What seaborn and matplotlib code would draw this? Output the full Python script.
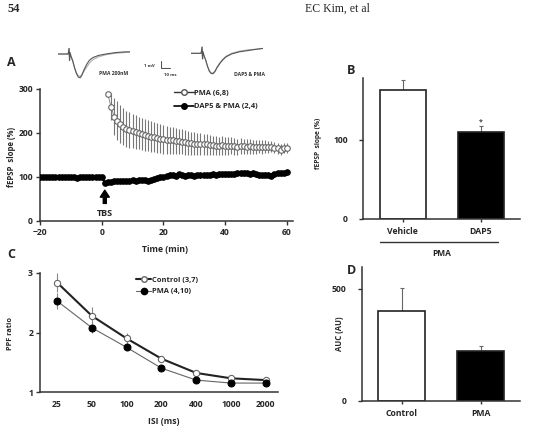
import numpy as np
import pandas as pd
import matplotlib
matplotlib.use("Agg")
import matplotlib.pyplot as plt
import matplotlib.transforms as mtransforms
from matplotlib.lines import Line2D
import seaborn as sns

# ---------------- data ----------------
time_dap5 = list(range(-20, 61))
dap5_pma = [100, 101, 100, 99, 100, 101, 100, 99, 100, 100, 101, 99, 98, 99, 100, 101, 100, 101, 100, 100, 101,
            87, 88, 89, 90, 90, 91, 91, 92, 92, 93,
            92, 93, 94, 93, 92, 94, 96, 97, 99, 100,
            102, 105, 104, 103, 106, 104, 103, 105, 104, 103,
            104, 104, 105, 104, 105, 106, 105, 106, 106, 107,
            106, 107, 107, 108, 108, 109, 108, 107, 108, 106,
            105, 104, 105, 104, 103, 106, 108, 109, 109, 111]
dap5_err = [3, 4, 3, 3, 4, 3, 3, 4, 3, 3, 4, 3, 3, 4, 3, 3, 4, 3, 3, 4, 3,
            5, 5, 4, 5, 4, 5, 4, 4, 5, 4,
            4, 5, 4, 4, 5, 4, 5, 4, 5, 5,
            5, 6, 5, 5, 6, 5, 5, 6, 5, 5,
            5, 6, 5, 5, 6, 5, 5, 6, 5, 6,
            6, 5, 6, 6, 5, 6, 6, 5, 6, 5,
            6, 5, 6, 5, 6, 5, 6, 6, 5, 6]
time_pma = list(range(2, 61))
pma = [288, 260, 237, 228, 221, 214, 210, 207, 204,
       202, 200, 198, 196, 194, 192, 190, 188, 187, 186,
       185, 183, 183, 182, 181, 180, 179, 178, 177, 176,
       175, 175, 174, 174, 173, 172, 171, 171, 172, 171,
       170, 171, 170, 169, 170, 170, 169, 170, 169, 168,
       169, 168, 169, 168, 169, 167, 165, 162, 166, 166]
pma_err = [4, 30, 42, 44, 43, 42, 41, 40, 39,
           38, 37, 36, 36, 35, 35, 34, 34, 33, 33,
           32, 31, 30, 30, 29, 28, 28, 27, 26, 26,
           25, 25, 24, 24, 23, 22, 22, 21, 21, 20,
           20, 19, 19, 18, 18, 17, 17, 17, 16, 16,
           15, 15, 14, 14, 13, 13, 12, 12, 11, 11]

isi_labels = ["25", "50", "100", "200", "400", "1000", "2000"]
ppf_control = [2.84, 2.28, 1.90, 1.56, 1.32, 1.23, 1.20]
ppf_control_err = [0.16, 0.15, 0.09, 0.05, 0.04, 0.03, 0.03]
ppf_pma = [2.53, 2.08, 1.75, 1.40, 1.20, 1.15, 1.15]
ppf_pma_err = [0.14, 0.09, 0.05, 0.04, 0.03, 0.03, 0.03]

b_groups = ["Vehicle", "DAP5"]
b_values = [163, 110]
b_err = [12, 7]

d_groups = ["Control", "PMA"]
d_values = [401, 224]
d_err = [102, 21]

trace_t = [0, 11, 12, 12.5, 13, 14, 16, 18, 20, 22, 24, 26, 28, 31, 34, 38, 44, 52, 62, 72, 78]
trace1_dark = [0, 0, 0.8, -0.9, 0.2, -0.3, -1.0, -2.0, -2.8, -3.3, -3.4, -3.0, -2.3, -1.5, -0.9, -0.5, -0.2, 0.0, 0.2, 0.3, 0.3]
trace1_gray = [0, 0, 0.8, -0.9, 0.2, -0.3, -1.0, -2.0, -2.7, -3.1, -3.2, -2.9, -2.5, -1.9, -1.3, -0.8, -0.4, -0.1, 0.1, 0.2, 0.3]
trace2_dark = [0, 0, 0.9, -0.8, 0.2, -0.3, -1.0, -1.9, -2.6, -2.9, -2.9, -2.6, -2.1, -1.5, -1.0, -0.5, -0.1, 0.2, 0.4, 0.6, 0.7]
trace2_gray = [0, 0, 0.9, -0.8, 0.2, -0.3, -1.0, -1.9, -2.5, -2.8, -2.8, -2.5, -2.0, -1.4, -0.9, -0.4, 0.0, 0.3, 0.5, 0.6, 0.7]
scale_ms = 10
scale_mv = 1

# ---------------- style ----------------
sns.set_theme(style="white")
plt.rcParams["font.family"] = ["Open Sans", "DejaVu Sans"]
plt.rcParams["font.weight"] = "bold"
plt.rcParams["axes.labelweight"] = "bold"

W, H = 534, 430
fig = plt.figure(figsize=(W / 100, H / 100), dpi=100)
fig.patch.set_facecolor("white")


def rect(x0, y0, x1, y1):
    return [x0 / W, 1 - y1 / H, (x1 - x0) / W, (y1 - y0) / H]


def fx(px):
    return px / W


def fy(py):
    return 1 - py / H


SPINE = "#333333"
TICKFS = 6.2
LABFS = 5.6


def style_axes(ax):
    sns.despine(ax=ax)
    for s in ["left", "bottom"]:
        ax.spines[s].set_color(SPINE)
        ax.spines[s].set_linewidth(1.1)
    ax.tick_params(axis="both", direction="out", length=3, width=1, color=SPINE,
                   labelsize=TICKFS, pad=2, left=True, bottom=True)
    for lab in ax.get_xticklabels() + ax.get_yticklabels():
        lab.set_fontweight("bold")
    ax.set_facecolor("white")


# ---------------- header ----------------
fig.text(fx(8), fy(9), "54", fontsize=9, fontweight="bold",
         family=["Liberation Serif", "DejaVu Serif"], va="center", ha="left")
fig.text(fx(305), fy(9), "EC Kim, et al", fontsize=8.5, fontweight="normal",
         family=["Liberation Serif", "DejaVu Serif"], va="center", ha="left")

# ---------------- panel A ----------------
axA = fig.add_axes(rect(40, 89, 293, 221))
dfA1 = pd.DataFrame({"t": time_pma, "v": pma})
dfA2 = pd.DataFrame({"t": time_dap5, "v": dap5_pma})
axA.errorbar(time_pma, pma, yerr=pma_err, fmt="none", ecolor="#777777", elinewidth=0.8, capsize=0, zorder=1)
axA.errorbar(time_dap5, dap5_pma, yerr=dap5_err, fmt="none", ecolor="#111111", elinewidth=0.8, capsize=0, zorder=1)
sns.lineplot(data=dfA1, x="t", y="v", ax=axA, color="#777777", lw=0.6, marker="o", markersize=4,
             markerfacecolor="white", markeredgecolor="#666666", markeredgewidth=0.8, zorder=3)
sns.lineplot(data=dfA2, x="t", y="v", ax=axA, color="black", lw=1.5, marker="o", markersize=4,
             markerfacecolor="black", markeredgecolor="black", zorder=3)
axA.set_xlim(-20, 62)
axA.set_ylim(0, 300)
axA.set_xticks([-20, 0, 20, 40, 60])
axA.set_yticks([0, 100, 200, 300])
axA.set_xlabel("")
axA.set_ylabel("")
style_axes(axA)
axA.annotate("", xy=(1, 70), xytext=(1, 40),
             arrowprops=dict(facecolor="black", edgecolor="black", width=2.2, headwidth=6.5,
                             headlength=5, shrink=0))
axA.text(1, 18, "TBS", ha="center", va="center", fontsize=6.5, fontweight="bold")
hA = [Line2D([], [], color="#333333", lw=1.0, marker="o", markersize=4, markerfacecolor="white",
             markeredgecolor="#555555"),
      Line2D([], [], color="black", lw=1.2, marker="o", markersize=4, markerfacecolor="black")]
legA = axA.legend(hA, ["PMA (6,8)", "DAP5 & PMA (2,4)"], loc="upper left", bbox_to_anchor=(0.53, 0.995),
                  frameon=False, fontsize=5.4, handlelength=2.6, handletextpad=0.1, labelspacing=0.8,
                  borderpad=0, borderaxespad=0)
for t in legA.get_texts():
    t.set_fontweight("bold")
fig.text(fx(12), fy(157), "fEPSP  slope (%)", rotation=90, fontsize=LABFS, fontweight="bold",
         ha="center", va="center")
fig.text(fx(165), fy(249), "Time (min)", fontsize=6.2, fontweight="bold", ha="center", va="center")
fig.text(fx(11), fy(63), "A", fontsize=9, fontweight="bold", ha="center", va="center")

# traces
axT1 = fig.add_axes(rect(58, 47, 130, 79.2))
axT1.plot(trace_t, trace1_gray, color="#b0b0b0", lw=0.8)
axT1.plot(trace_t, trace1_dark, color="#555555", lw=0.8)
axT1.set_xlim(0, 78)
axT1.set_ylim(-3.6, 1.0)
axT1.axis("off")
axT2 = fig.add_axes(rect(191, 46.3, 263, 78.5))
axT2.plot(trace_t, trace2_gray, color="#b0b0b0", lw=0.8)
axT2.plot(trace_t, trace2_dark, color="#555555", lw=0.8)
axT2.set_xlim(0, 78)
axT2.set_ylim(-3.6, 1.0)
axT2.axis("off")
axS = fig.add_axes(rect(160.7, 60.7, 172.7, 68.6))
axS.plot([0, 0, scale_ms], [scale_mv, 0, 0], color="#555555", lw=0.8)
axS.set_xlim(0, 13)
axS.set_ylim(-0.1, 1.03)
axS.axis("off")
fig.text(fx(149), fy(66), "1 mV", fontsize=3.2, ha="center", va="center", color="#333333")
fig.text(fx(170), fy(75), "10 ms", fontsize=3.2, ha="center", va="center", color="#333333")
fig.text(fx(114), fy(73.5), "PMA 200nM", fontsize=3.6, fontweight="bold", ha="center", va="center", color="#333333")
fig.text(fx(250), fy(74), "DAP5 & PMA", fontsize=3.6, fontweight="bold", ha="center", va="center", color="#333333")

# ---------------- panel B ----------------
axB = fig.add_axes(rect(363, 78, 520, 219))
dfB = pd.DataFrame({"g": b_groups, "v": b_values})
sns.barplot(data=dfB, x="g", y="v", ax=axB, width=0.59, palette=["white", "black"], hue="g",
            legend=False, edgecolor="#222222", linewidth=1.2, errorbar=None, zorder=2)
axB.errorbar(range(len(b_values)), b_values, yerr=[[0] * len(b_err), b_err], fmt="none",
             ecolor="#666666", elinewidth=0.8, capsize=1.5, capthick=0.8, zorder=1)
axB.text(1, b_values[1] + b_err[1] + 5, "*", ha="center", va="center", fontsize=5, color="#444444")
axB.set_xlim(-0.51, 1.5)
axB.set_ylim(0, 178)
axB.set_yticks([0, 100])
axB.set_xlabel("")
axB.set_ylabel("")
style_axes(axB)
axB.tick_params(axis="x", length=2, pad=4)
axB.tick_params(axis="y", pad=8)
trB = mtransforms.blended_transform_factory(axB.transData, axB.transAxes)
axB.plot([-0.29, 1.22], [-0.164, -0.164], transform=trB, color="#333333", lw=1.0, clip_on=False)
axB.text(0.5, -0.245, "PMA", transform=trB, ha="center", va="center", fontsize=6, fontweight="bold")
fig.text(fx(319), fy(143), "fEPSP  slope (%)", rotation=90, fontsize=LABFS - 0.8, fontweight="bold",
         ha="center", va="center")
fig.text(fx(351), fy(70), "B", fontsize=9, fontweight="bold", ha="center", va="center")

# ---------------- panel C ----------------
axC = fig.add_axes(rect(40, 273, 278, 392))
xC = list(range(len(isi_labels)))
axC.errorbar(xC, ppf_control, yerr=ppf_control_err, fmt="none", ecolor="#888888", elinewidth=0.8, capsize=0, zorder=1)
axC.errorbar(xC, ppf_pma, yerr=ppf_pma_err, fmt="none", ecolor="#888888", elinewidth=0.8, capsize=0, zorder=1)
sns.lineplot(x=xC, y=ppf_control, ax=axC, color="#222222", lw=1.5, marker="o", markersize=4.5,
             markerfacecolor="white", markeredgecolor="#666666", markeredgewidth=0.8, zorder=3)
sns.lineplot(x=xC, y=ppf_pma, ax=axC, color="#666666", lw=0.8, marker="o", markersize=5,
             markerfacecolor="black", markeredgecolor="black", zorder=3)
axC.set_xlim(-0.49, 6.35)
axC.set_ylim(1, 3)
axC.set_xticks(xC)
axC.set_xticklabels(isi_labels)
axC.set_yticks([1, 2, 3])
axC.set_xlabel("")
axC.set_ylabel("")
style_axes(axC)
axC.tick_params(axis="x", length=0, pad=6)
hC = [Line2D([], [], color="#222222", lw=1.5, marker="o", markersize=4, markerfacecolor="white",
             markeredgecolor="#666666"),
      Line2D([], [], color="#666666", lw=0.8, marker="o", markersize=4.5, markerfacecolor="black",
             markeredgecolor="black")]
legC = axC.legend(hC, ["Control (3,7)", "PMA (4,10)"], loc="upper left", bbox_to_anchor=(0.405, 0.97),
                  frameon=False, fontsize=5.4, handlelength=2.0, handletextpad=0.1, labelspacing=0.55,
                  borderpad=0, borderaxespad=0)
for t in legC.get_texts():
    t.set_fontweight("bold")
fig.text(fx(10), fy(333), "PPF ratio", rotation=90, fontsize=LABFS - 0.3, fontweight="bold",
         ha="center", va="center")
fig.text(fx(164), fy(422), "ISI (ms)", fontsize=6.2, fontweight="bold", ha="center", va="center")
fig.text(fx(11), fy(255), "C", fontsize=9, fontweight="bold", ha="center", va="center")

# ---------------- panel D ----------------
axD = fig.add_axes(rect(362, 267, 520, 400.7))
dfD = pd.DataFrame({"g": d_groups, "v": d_values})
sns.barplot(data=dfD, x="g", y="v", ax=axD, width=0.59, palette=["white", "black"], hue="g",
            legend=False, edgecolor="#222222", linewidth=1.2, errorbar=None, zorder=2)
axD.errorbar(range(len(d_values)), d_values, yerr=[[0] * len(d_err), d_err], fmt="none",
             ecolor="#666666", elinewidth=0.8, capsize=1.5, capthick=0.8, zorder=1)
axD.set_xlim(-0.5, 1.5)
axD.set_ylim(0, 598)
axD.set_yticks([0, 500])
axD.set_xlabel("")
axD.set_ylabel("")
style_axes(axD)
axD.tick_params(axis="x", length=2, pad=4)
axD.tick_params(axis="y", pad=8)
fig.text(fx(339), fy(334), "AUC (AU)", rotation=90, fontsize=LABFS, fontweight="bold",
         ha="center", va="center")
fig.text(fx(351), fy(270), "D", fontsize=9, fontweight="bold", ha="center", va="center")

fig.savefig("out.png", dpi=100, facecolor="white")
